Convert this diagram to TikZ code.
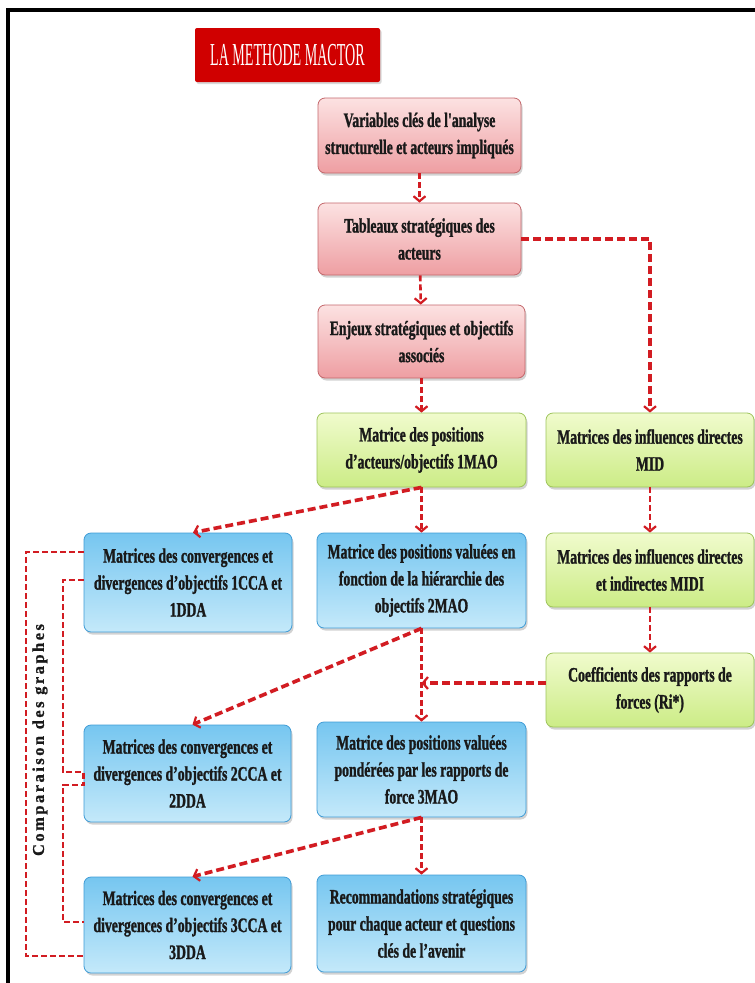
\documentclass[tikz,border=0pt]{standalone}
\usepackage{fontspec}
\usetikzlibrary{arrows.meta,shadows,calc}
\newfontfamily\boxfont{Liberation Serif}[FakeStretch=0.67,FakeBold=1.2]
\newfontfamily\titlefont{Liberation Serif}[FakeStretch=0.44]
\newfontfamily\sidefont{Liberation Serif}[LetterSpace=15,FakeBold=1]
\definecolor{pinkT}{RGB}{252,226,226}
\definecolor{pinkB}{RGB}{238,158,162}
\definecolor{pinkD}{RGB}{196,104,108}
\definecolor{greenT}{RGB}{240,251,205}
\definecolor{greenB}{RGB}{204,236,134}
\definecolor{greenD}{RGB}{158,196,92}
\definecolor{blueT}{RGB}{118,198,240}
\definecolor{blueB}{RGB}{196,233,250}
\definecolor{blueD}{RGB}{64,156,214}
\definecolor{titleR}{RGB}{208,0,0}
\definecolor{arrowR}{RGB}{210,28,34}
\begin{document}
\begin{tikzpicture}[x=1pt,y=-1pt,
  box/.style={rounded corners=7pt, draw=#1D, line width=0.8pt,
    top color=#1T, bottom color=#1B,
    drop shadow={shadow xshift=1.5pt,shadow yshift=-2.5pt,opacity=0.35},
    align=center, inner sep=2pt, text=black!90,
    font=\boxfont\bfseries\fontsize{20.5}{27}\selectfont},
  conn/.style={draw=arrowR, line width=3.6pt, dash pattern=on 8pt off 4pt,
    -{Straight Barb[length=5pt,width=12pt,line width=2.2pt]}},
  smallarr/.style={draw=arrowR, line width=2.6pt, dash pattern=on 6pt off 3pt,
    -{Straight Barb[length=5pt,width=12pt,line width=2.2pt]}},
  brk/.style={draw=arrowR, line width=2.6pt, dash pattern=on 6pt off 3pt}]
\useasboundingbox (0,0) rectangle (755,983);
\fill[white] (0,0) rectangle (755,983);
\draw[line width=3.5pt] (8,983) -- (8,10) -- (755,10);

\node[fill=titleR, rounded corners=2pt, minimum width=185pt, minimum height=54pt,
  text=white, font=\titlefont\fontsize{32}{33}\selectfont,
  drop shadow={shadow xshift=1.5pt,shadow yshift=-2pt,opacity=0.3}] (title) at (287.5,55) {LA METHODE MACTOR};

\node[box=pink, minimum width=203pt, minimum height=75pt] (v1) at (419.5,135.5)
  {Variables clés de l'analyse\\structurelle et acteurs impliqués};
\node[box=pink, minimum width=203pt, minimum height=72pt] (v2) at (419.5,239)
  {Tableaux stratégiques des\\acteurs};
\node[box=pink, minimum width=207pt, minimum height=73pt] (v3) at (421.5,341.5)
  {Enjeux stratégiques et objectifs\\associés};

\node[box=green, minimum width=209pt, minimum height=74pt] (m1) at (421.5,450)
  {Matrice des positions\\d’acteurs/objectifs 1MAO};
\node[box=green, minimum width=208pt, minimum height=74pt] (mid) at (650,450)
  {Matrices des influences directes\\MID};
\node[box=blue, minimum width=209pt, minimum height=95pt] (m2) at (421.5,580.5)
  {Matrice des positions valuées en\\fonction de la hiérarchie des\\objectifs 2MAO};
\node[box=green, minimum width=208pt, minimum height=74pt] (midi) at (650,570)
  {Matrices des influences directes\\et indirectes MIDI};
\node[box=green, minimum width=208pt, minimum height=74pt] (coef) at (650,690)
  {Coefficients des rapports de\\forces (Ri*)};
\node[box=blue, minimum width=209pt, minimum height=95pt] (m3) at (421.5,769.5)
  {Matrice des positions valuées\\pondérées par les rapports de\\force 3MAO};
\node[box=blue, minimum width=209pt, minimum height=97pt] (rec) at (421.5,923.5)
  {Recommandations stratégiques\\pour chaque acteur et questions\\clés de l’avenir};

\node[box=blue, minimum width=208pt, minimum height=99pt] (c1) at (188,582.5)
  {Matrices des convergences et\\divergences d’objectifs 1CCA et\\1DDA};
\node[box=blue, minimum width=207pt, minimum height=97pt] (c2) at (187.5,773.5)
  {Matrices des convergences et\\divergences d’objectifs 2CCA et\\2DDA};
\node[box=blue, minimum width=207pt, minimum height=96pt] (c3) at (187.5,925)
  {Matrices des convergences et\\divergences d’objectifs 3CCA et\\3DDA};

\node[rotate=90, text=black!90, font=\sidefont\bfseries\fontsize{16.5}{16.5}\selectfont] (cmp) at (40,740) {Comparaison des graphes};

% vertical arrows
\draw[smallarr] (v1) -- (v2);
\draw[smallarr] (v2) -- (v3);
\draw[smallarr] (v3.south) -- (m1.north);
\draw[smallarr] (m1.south) -- (m2.north);
\draw[smallarr] (mid) -- (midi);
\draw[smallarr] (midi) -- (coef);
\draw[smallarr] (m2.south) -- (m3.north);
\draw[smallarr] (m3.south) -- (rec.north);
% long connectors
\draw[conn] (v2.east) -- (v2.east -| mid.north) -- (mid.north);
\draw[conn] (m1.south) -- ($(c1.north)+(5,0)$);
\draw[conn] (m2.south) -- ($(c2.north)+(5,0)$);
\draw[conn] (m3.south) -- ($(c3.north)+(5,0)$);
\coordinate (join) at ($(m2.south)!0.585!(m3.north)$);
\coordinate (cw) at ($(coef.west)+(0,-7)$);
\draw[conn] (cw) -- (cw -| join);
% comparison brackets
\draw[brk] (c1.west |- 0,552) -- (26,552) -- (26,956) -- (c3.west |- 0,956);
\draw[brk] (c1.west |- 0,580) -- (63,580) -- (63,772) -- (c2.west |- 0,772) -- (c2.west |- 0,785) -- (63,785) -- (63,922) -- (c3.west |- 0,922);
\end{tikzpicture}
\end{document}
